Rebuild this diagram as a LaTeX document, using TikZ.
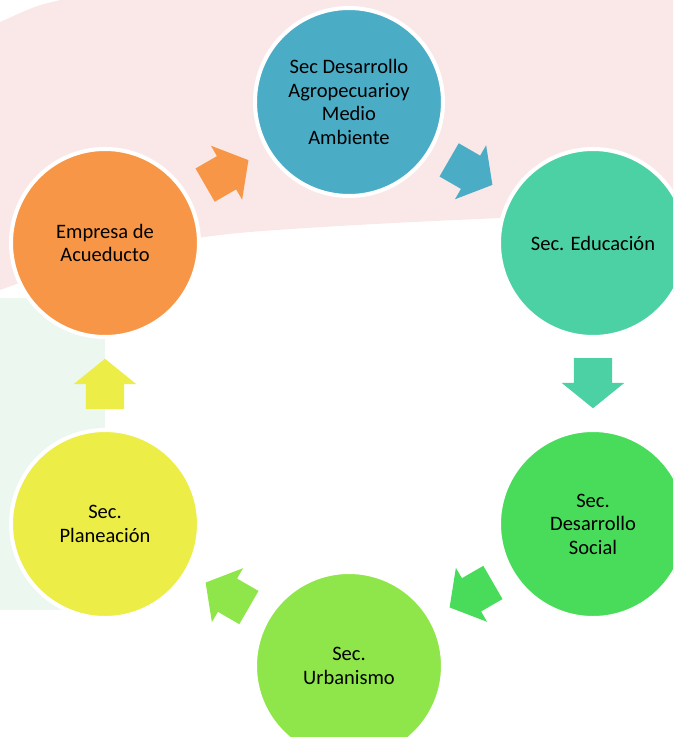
\documentclass[tikz,border=0pt]{standalone}
\usepackage{fontspec}
\setmainfont{Carlito}
\usetikzlibrary{shapes.arrows, calc}

\definecolor{agrocol}{RGB}{75,172,198}
\definecolor{educol}{RGB}{76,209,165}
\definecolor{socialcol}{RGB}{72,220,90}
\definecolor{urbcol}{RGB}{142,230,74}
\definecolor{plancol}{RGB}{237,237,72}
\definecolor{empcol}{RGB}{247,150,70}
\definecolor{bgpink}{RGB}{250,232,232}
\definecolor{bggreen}{RGB}{236,247,240}

\begin{document}
\begin{tikzpicture}[x=1pt, y=-1pt,
      sec/.style={circle, draw=white, line width=4pt, minimum size=188pt, inner sep=0pt,
                  font=\fontsize{20.5}{23.5}\selectfont, align=center, text=black},
      blk/.style={single arrow, draw=none, inner xsep=0pt, inner ysep=19pt,
                  minimum height=50pt, single arrow head extend=12pt,
                  single arrow tip angle=102, anchor=tip}]

    \useasboundingbox (0,0) rectangle (673,737);
    \clip (0,0) rectangle (673,737);

    % faint backdrop
    \fill[bgpink] (0,0) -- (673,0) -- (673,212)
      .. controls (550,215) and (350,224) .. (250,232)
      .. controls (150,240) and (60,268) .. (0,290) -- cycle;
    \fill[white] (0,0) -- (60,0) .. controls (35,6) .. (0,22) -- cycle;
    \fill[bggreen] (0,298) rectangle (105,610);

    % the six offices, round the cycle
    \node[sec, fill=agrocol]   (agro)   at (349,102) {Sec Desarrollo\\Agropecuarioy\\Medio\\Ambiente};
    \node[sec, fill=educol]    (edu)    at (593,243) {Sec. Educación};
    \node[sec, fill=socialcol] (social) at (593,524) {Sec.\\Desarrollo\\Social};
    \node[sec, fill=urbcol]    (urb)    at (349,666) {Sec.\\Urbanismo};
    \node[sec, fill=plancol]   (plan)   at (105,524) {Sec.\\Planeación};
    \node[sec, fill=empcol]    (emp)    at (105,243) {Empresa de\\Acueducto};

    % block arrows between them (tip 25pt past the midpoint)
    \node[blk, fill=empcol,    rotate=30]  (a1) at ($(emp)!0.5!(agro)!25pt!(agro)$)    {};
    \node[blk, fill=agrocol,   rotate=-30] (a2) at ($(agro)!0.5!(edu)!25pt!(edu)$)     {};
    \node[blk, fill=educol,    rotate=-90] (a3) at ($(edu)!0.5!(social)!25pt!(social)$) {};
    \node[blk, fill=socialcol, rotate=210] (a4) at ($(social)!0.5!(urb)!25pt!(urb)$)   {};
    \node[blk, fill=urbcol,    rotate=150] (a5) at ($(urb)!0.5!(plan)!25pt!(plan)$)   {};
    \node[blk, fill=plancol,   rotate=90]  (a6) at ($(plan)!0.5!(emp)!25pt!(emp)$)    {};

\end{tikzpicture}
\end{document}
